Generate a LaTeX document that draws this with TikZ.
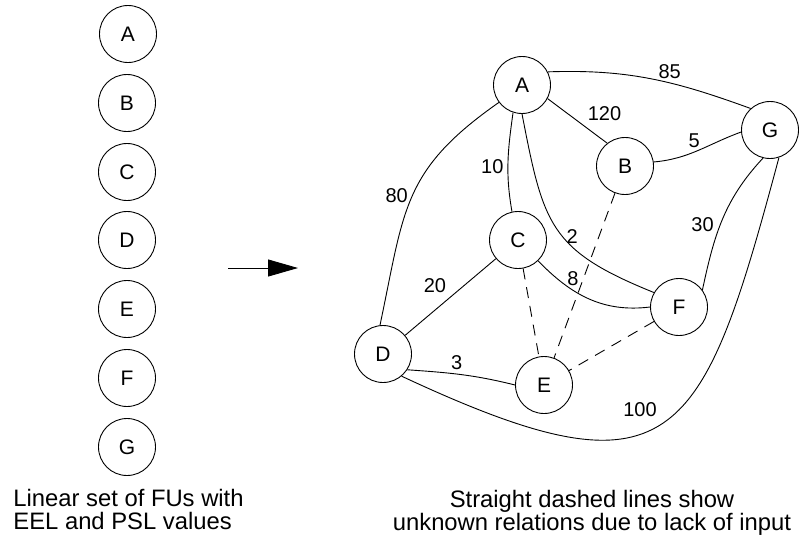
\documentclass[tikz,border=0pt]{standalone}
\usepackage{fontspec}
\setmainfont{Liberation Sans}
\usepackage{tikz}
\usetikzlibrary{positioning,arrows.meta}

\tikzset{
  fu/.style={draw=black, circle, minimum size=57pt, inner sep=0pt, line width=0.9pt, font=\fontsize{21}{25}\selectfont},
  wt/.style={inner sep=4pt, font=\fontsize{20}{24}\selectfont},
  unk/.style={dash pattern=on 11pt off 8pt},
  note/.style={inner sep=0pt, font=\fontsize{23.8}{23}\selectfont}
}

\begin{document}
\begin{tikzpicture}[x=1pt,y=1pt,line width=0.9pt]
\useasboundingbox (0,0) rectangle (799,-536);
\node [fu] (lA) at (128,-34) {A};
\node [fu] (lB) at (127,-103) {B};
\node [fu] (lC) at (127,-172) {C};
\node [fu] (lD) at (127,-240) {D};
\node [fu] (lE) at (127,-309) {E};
\node [fu] (lF) at (127,-378) {F};
\node [fu] (lG) at (127,-447) {G};
\node [note, anchor=north west, align=left] (lnote) at (13,-489) {Linear set of FUs with\\EEL and PSL values};
\coordinate (arrS) at (228,-268);
\coordinate (arrE) at (298,-268);
\draw [-{Triangle[length=30pt,width=17pt]}] (arrS) -- (arrE);
\node [fu] (A) at (522,-85) {A};
\node [fu] (B) at (625,-166) {B};
\node [fu] (C) at (518,-240) {C};
\node [fu] (D) at (383,-354) {D};
\node [fu] (E) at (544,-385) {E};
\node [fu] (F) at (679,-307) {F};
\node [fu] (G) at (770,-130) {G};
\node [note, anchor=north, align=center] (rnote) at (592,-490) {Straight dashed lines show\\unknown relations due to lack of input};
\draw (A.27) to[out=2,in=160] node[wt,above,pos=0.6] {85} (G.132);
\draw (A.-28) -- node[wt,above right,pos=0.6] {120} (B.128);
\draw (B.8) to[out=5,in=200] node[wt,above,pos=0.45] {5} (G.184);
\draw (A.252) to[out=262,in=100] node[wt,left,pos=0.55] {10} (C.102);
\draw (A.270) to[out=281,in=158,looseness=1.3] node[wt,right,pos=0.55] {2} (F.150);
\draw (A.217) to[out=215,in=78,looseness=1.2] node[wt,left] {80} (D.96);
\draw (C.-46) to[out=-46,in=187] node[wt,above,pos=0.35] {8} (F.180);
\draw (C) -- node[wt,above left] {20} (D);
\draw (D.-33) to[out=-4,in=166] node[wt,above,pos=0.45] {3} (E.180);
\draw (D.-50) to[out=-25,in=255,distance=300pt] node[wt,above left,inner sep=6pt] {100} (G.-72);
\draw (F.36) to[out=78,in=227] node[wt,left,pos=0.45,inner sep=6pt] {30} (G.256);
\draw [unk] (C) -- (E);
\draw [unk] (B) -- (E);
\draw [unk] (F) -- (E);
\end{tikzpicture}
\end{document}
